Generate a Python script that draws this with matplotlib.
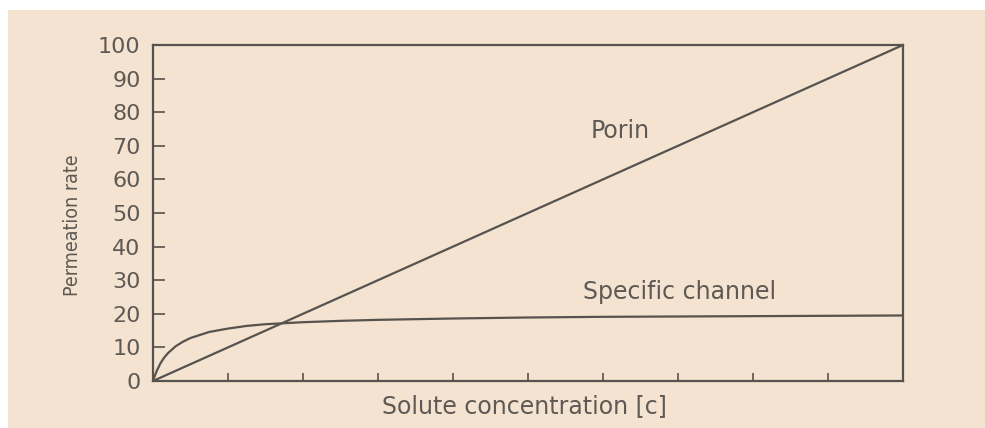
import matplotlib
matplotlib.use("Agg")
import matplotlib.pyplot as plt
from matplotlib.patches import Rectangle

# values
porin_conc = [0, 1, 2, 3, 4, 5, 6, 7, 8, 9, 10]
porin_rate = [0, 10, 20, 30, 40, 50, 60, 70, 80, 90, 100]

channel_conc = [0, 0.02, 0.05, 0.1, 0.15, 0.2, 0.3, 0.4, 0.5, 0.75, 1.0, 1.25,
                1.5, 2.0, 2.5, 3, 4, 5, 6, 7, 8, 9, 10]
channel_rate = [0, 1.3, 3.0, 5.3, 7.0, 8.3, 10.3, 11.7, 12.8, 14.6, 15.6, 16.4,
                16.9, 17.5, 17.9, 18.2, 18.6, 18.9, 19.1, 19.2, 19.3, 19.4, 19.5]

y_ticks = [0, 10, 20, 30, 40, 50, 60, 70, 80, 90, 100]
x_ticks = [0, 1, 2, 3, 4, 5, 6, 7, 8, 9, 10]

BG = "#f4e3d0"
INK = "#56524d"
TEXT = "#5e5954"

fig = plt.figure(figsize=(9.85, 4.28), dpi=100)
fig.patch.set_facecolor("white")
fig.patches.append(Rectangle((8 / 985, 0), 1, 1 - 10 / 428, transform=fig.transFigure,
                             facecolor=BG, edgecolor="none", zorder=-10))

ax = fig.add_axes([153 / 985, 47 / 428, 750 / 985, 336 / 428])
ax.set_facecolor(BG)

ax.plot(porin_conc, porin_rate, color=INK, lw=1.6, solid_capstyle="butt")
ax.plot(channel_conc, channel_rate, color=INK, lw=1.6)

ax.set_xlim(0, 10)
ax.set_ylim(0, 100)
ax.set_xticks(x_ticks)
ax.set_xticklabels([])
ax.set_yticks(y_ticks)
ax.tick_params(axis="y", direction="in", length=8.5, width=1.2, color=INK,
               pad=9, labelsize=16, labelcolor=TEXT)
ax.tick_params(axis="x", direction="in", length=5.5, width=1.2, color=INK)
for s in ax.spines.values():
    s.set_color(INK)
    s.set_linewidth(1.6)

ax.text(5.83, 74.4, "Porin", ha="left", va="center", fontsize=17, color=TEXT)
ax.text(5.73, 26.5, "Specific channel", ha="left", va="center", fontsize=17, color=TEXT)

ax.set_xlabel("Solute concentration [c]", fontsize=17, color=TEXT)
ax.xaxis.set_label_coords((524 - 153) / 750, (381 - 394) / 336)
# narrow face in the original; condensed DejaVu is the closest installed match
ax.set_ylabel("Permeation rate", fontsize=14, color=TEXT, fontstretch="condensed")
ax.yaxis.set_label_coords((82 - 153) / 750, (381 - 225) / 336)

fig.savefig("out.png", dpi=100, facecolor=fig.get_facecolor())
